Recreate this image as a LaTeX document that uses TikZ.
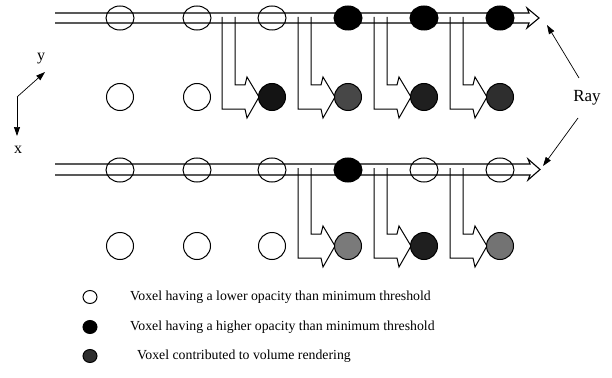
\documentclass[tikz,border=0pt]{standalone}
\usepackage{fontspec}
\setmainfont{Liberation Serif}
\usetikzlibrary{shapes.geometric,arrows.meta}
\tikzset{
  raystyle/.style={line width=1.1pt},
  onray/.style={ellipse,draw,line width=1pt,minimum width=28pt,minimum height=24pt,inner sep=0pt},
  offray/.style={circle,draw,line width=1pt,minimum size=27pt,inner sep=0pt},
  legvox/.style={ellipse,draw,line width=1pt,minimum width=14pt,minimum height=13pt,inner sep=0pt},
  lshape/.style={line width=1pt,line join=miter},
  legtext/.style={anchor=west,inner sep=0pt,font=\fontsize{13.8}{16}\selectfont},
  pointer/.style={line width=0.7pt,-{Triangle[length=9pt,width=6pt]}},
}
\newcommand\larrow[3]{%
  \draw[lshape] ({#1-37},#2) -- ({#1-37},{#3-12}) -- ({#1-27},{#3-12}) -- ({#1-25},{#3-20})
    -- ({#1-13},#3) -- ({#1-25},{#3+21}) -- ({#1-27},{#3+12}) -- ({#1-50},{#3+12}) -- ({#1-50},#2);}
\begin{document}
\begin{tikzpicture}[x=1pt,y=-1pt]
\useasboundingbox (0,0) rectangle (612,377);
% rays
\draw[raystyle] (55,13) -- (529,13) -- (527,8) -- (539,18) -- (527,28) -- (529,23) -- (55,23);
\draw[raystyle] (55,164) -- (530,164) -- (528,159) -- (540,169.5) -- (528,180) -- (530,175) -- (55,175);
% hollow L arrows, top
\larrow{272}{17}{97}
\larrow{348}{17}{97}
\larrow{424}{17}{97}
\larrow{500}{17}{97}
% bottom
\larrow{348}{168}{246}
\larrow{424}{168}{246}
\larrow{500}{168}{246}
% voxels top ray
\node[onray] (t1) at (120,18) {};
\node[onray] (t2) at (197,18) {};
\node[onray] (t3) at (272,18) {};
\node[onray,fill=black] (t4) at (348,18) {};
\node[onray,fill=black] (t5) at (424,18) {};
\node[onray,fill=black] (t6) at (500,18) {};
% row 2
\node[offray] (r1) at (120,97) {};
\node[offray] (r2) at (197,97) {};
\node[offray,fill=black!92] (r3) at (272,97) {};
\node[offray,fill=black!72] (r4) at (348,97) {};
\node[offray,fill=black!88] (r5) at (424,97) {};
\node[offray,fill=black!82] (r6) at (500,97) {};
% bottom ray
\node[onray] (b1) at (120,170) {};
\node[onray] (b2) at (197,170) {};
\node[onray] (b3) at (272,170) {};
\node[onray,fill=black] (b4) at (348,170) {};
\node[onray] (b5) at (424,170) {};
\node[onray] (b6) at (500,170) {};
% bottom row
\node[offray] (s1) at (120,246) {};
\node[offray] (s2) at (197,246) {};
\node[offray] (s3) at (272,246) {};
\node[offray,fill=black!52] (s4) at (348,246) {};
\node[offray,fill=black!88] (s5) at (424,246) {};
\node[offray,fill=black!55] (s6) at (500,246) {};
% axes
\coordinate (o) at (17,97);
\coordinate (ytip) at (45,72);
\coordinate (xtip) at (17,136);
\draw[pointer] (o) -- (ytip);
\draw[pointer] (o) -- (xtip);
\node[font=\fontsize{16}{18}\selectfont,inner sep=0pt] (ylab) at (41,59) {y};
\node[font=\fontsize{16}{18}\selectfont,inner sep=0pt] (xlab) at (18,150) {x};
% ray label
\node[font=\fontsize{17}{19}\selectfont,inner sep=0pt] (ray) at (587,98) {Ray};
\coordinate (ra) at (579,78);
\coordinate (rb) at (578,118);
\coordinate (ta) at (547,25);
\coordinate (tb) at (543,166);
\draw[pointer] (ra) -- (ta);
\draw[pointer] (rb) -- (tb);
% legend
\node[legvox] (l1) at (90,297) {};
\node[legvox,fill=black] (l2) at (90,327) {};
\node[legvox,fill=black!82] (l3) at (90,356) {};
\node[legtext] (lt1) at (130,297) {Voxel having a lower opacity than minimum threshold};
\node[legtext] (lt2) at (130,327) {Voxel having a higher opacity than minimum threshold};
\node[legtext] (lt3) at (137,356) {Voxel contributed to volume rendering};
\end{tikzpicture}
\end{document}
